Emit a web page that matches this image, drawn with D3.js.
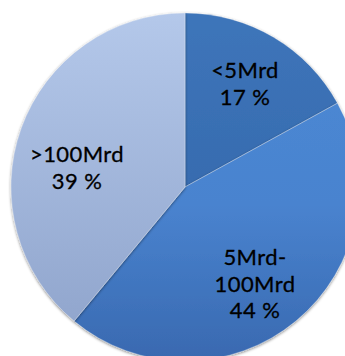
<!DOCTYPE html>
<html><head><meta charset="utf-8">
<script src="https://cdn.jsdelivr.net/npm/d3@7"></script>
<style>html,body{margin:0;padding:0;background:#fff;}svg{display:block;}</style>
</head><body>
<script>
const categories = ["<5Mrd", "5Mrd-100Mrd", ">100Mrd"];
const values = [17, 44, 39];
const labelLines = [["<5Mrd", "17 %"], ["5Mrd-", "100Mrd", "44 %"], [">100Mrd", "39 %"]];
const colorStops = [
  [["0%", "#3e75ba"], ["100%", "#2f62a5"]],
  [["0%", "#4d8ad5"], ["55%", "#4983cf"], ["100%", "#3969b0"]],
  [["0%", "#b4c8ea"], ["100%", "#8da2ca"]]
];

const W = 345, H = 356;
const cx = 185, cy = 187, R = 174;

const svg = d3.select("body").append("svg").attr("width", W).attr("height", H);
const defs = svg.append("defs");
categories.forEach((c, i) => {
  const g = defs.append("linearGradient").attr("id", "g" + i)
    .attr("gradientUnits", "userSpaceOnUse")
    .attr("x1", 0).attr("y1", -R).attr("x2", 0).attr("y2", R);
  colorStops[i].forEach(s => g.append("stop").attr("offset", s[0]).attr("stop-color", s[1]));
});
const f = defs.append("filter").attr("id", "sh").attr("x", "-10%").attr("y", "-10%").attr("width", "120%").attr("height", "120%");
f.append("feGaussianBlur").attr("in", "SourceAlpha").attr("stdDeviation", 1.5).attr("result", "b");
f.append("feOffset").attr("in", "b").attr("dx", 0).attr("dy", 1).attr("result", "o");
f.append("feComponentTransfer").attr("in", "o").attr("result", "o2").append("feFuncA").attr("type", "linear").attr("slope", 0.5);
const m = f.append("feMerge");
m.append("feMergeNode").attr("in", "o2");
m.append("feMergeNode").attr("in", "SourceGraphic");

const pie = d3.pie().sort(null).value(d => d)(values);
const arc = d3.arc().innerRadius(0).outerRadius(R);

const g = svg.append("g").attr("transform", `translate(${cx},${cy})`);
g.selectAll("path.slice").data(pie).enter().append("path")
  .attr("class", "slice")
  .attr("d", arc)
  .attr("fill", (d, i) => `url(#g${i})`)
  .attr("stroke", "rgba(255,255,255,0.3)")
  .attr("stroke-width", 1)
  .attr("filter", "url(#sh)");

const labelPos = [[60, -109], [70, 78], [-108, -25]];
const fs = 22, lh = 26.5;
const lab = g.selectAll("text.lab").data(pie).enter().append("text")
  .attr("class", "lab")
  .attr("font-family", "Lato, 'Open Sans', sans-serif")
  .attr("font-size", fs)
  .attr("letter-spacing", 0.4)
  .attr("fill", "#000")
  .attr("stroke", "#000")
  .attr("stroke-width", 0.3)
  .attr("text-anchor", "middle")
  .attr("transform", (d, i) => `translate(${labelPos[i][0]},${labelPos[i][1]})`);
lab.each(function(d, i) {
  const t = d3.select(this);
  labelLines[i].forEach((s, k) => {
    t.append("tspan").attr("x", 0).attr("y", k * lh).text(s);
  });
});
</script>
</body></html>
